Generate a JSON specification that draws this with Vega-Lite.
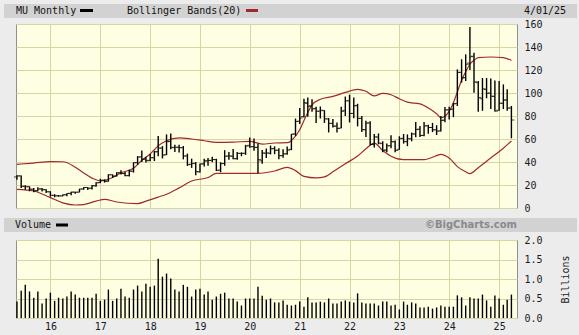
{
  "$schema": "https://vega.github.io/schema/vega-lite/v6.json",
  "background": "#ececec",
  "padding": {"left": 3, "top": 3, "right": 3, "bottom": 5},
  "config": {
    "font": "DejaVu Sans Mono",
    "axis": {"labelFont": "DejaVu Sans Mono", "labelFontSize": 10, "labelColor": "#1a1a1a", "labelOverlap": false, "gridColor": "#d9d4a4", "gridOpacity": 1, "ticks": false, "domain": false, "titleFont": "DejaVu Sans Mono", "titleFontSize": 10, "titleFontWeight": "normal", "titleColor": "#1a1a1a"},
    "view": {"fill": "#fefee2", "stroke": "#909090"}
  },
  "datasets": {
    "ohlc": [
      {"d":"2015-05-01","o":27.0,"h":28.5,"l":24.5,"c":27.9},
      {"d":"2015-06-01","o":27.9,"h":28.2,"l":17.3,"c":18.8},
      {"d":"2015-07-01","o":18.9,"h":19.8,"l":15.8,"c":18.5},
      {"d":"2015-08-01","o":18.5,"h":18.8,"l":14.5,"c":16.4},
      {"d":"2015-09-01","o":16.3,"h":17.3,"l":13.8,"c":15.0},
      {"d":"2015-10-01","o":15.0,"h":18.0,"l":14.5,"c":16.6},
      {"d":"2015-11-01","o":16.6,"h":17.4,"l":14.4,"c":15.9},
      {"d":"2015-12-01","o":15.9,"h":16.3,"l":13.0,"c":14.2},
      {"d":"2016-01-01","o":14.0,"h":14.6,"l":9.8,"c":11.0},
      {"d":"2016-02-01","o":11.0,"h":12.0,"l":9.3,"c":10.6},
      {"d":"2016-03-01","o":10.6,"h":11.3,"l":9.8,"c":10.5},
      {"d":"2016-04-01","o":10.5,"h":11.8,"l":10.2,"c":11.5},
      {"d":"2016-05-01","o":11.5,"h":12.9,"l":10.2,"c":12.7},
      {"d":"2016-06-01","o":12.7,"h":14.2,"l":11.0,"c":13.8},
      {"d":"2016-07-01","o":13.8,"h":14.1,"l":12.3,"c":13.7},
      {"d":"2016-08-01","o":13.8,"h":16.7,"l":13.6,"c":16.5},
      {"d":"2016-09-01","o":16.5,"h":18.1,"l":15.9,"c":17.8},
      {"d":"2016-10-01","o":17.8,"h":18.0,"l":15.7,"c":17.2},
      {"d":"2016-11-01","o":17.2,"h":19.9,"l":16.0,"c":19.3},
      {"d":"2016-12-01","o":19.4,"h":22.4,"l":18.5,"c":21.9},
      {"d":"2017-01-01","o":22.1,"h":25.4,"l":21.6,"c":24.1},
      {"d":"2017-02-01","o":24.2,"h":24.9,"l":22.1,"c":23.2},
      {"d":"2017-03-01","o":23.3,"h":29.3,"l":23.0,"c":28.9},
      {"d":"2017-04-01","o":28.9,"h":29.2,"l":26.3,"c":27.7},
      {"d":"2017-05-01","o":27.8,"h":31.1,"l":27.4,"c":30.6},
      {"d":"2017-06-01","o":30.7,"h":32.9,"l":29.1,"c":29.9},
      {"d":"2017-07-01","o":30.0,"h":31.3,"l":27.6,"c":28.1},
      {"d":"2017-08-01","o":28.2,"h":33.3,"l":27.3,"c":32.0},
      {"d":"2017-09-01","o":32.0,"h":39.7,"l":30.8,"c":39.3},
      {"d":"2017-10-01","o":39.5,"h":45.1,"l":37.6,"c":44.3},
      {"d":"2017-11-01","o":44.5,"h":49.9,"l":39.9,"c":42.4},
      {"d":"2017-12-01","o":42.5,"h":44.5,"l":39.5,"c":41.1},
      {"d":"2018-01-01","o":41.5,"h":47.0,"l":40.6,"c":43.7},
      {"d":"2018-02-01","o":43.7,"h":49.8,"l":40.8,"c":48.8},
      {"d":"2018-03-01","o":49.0,"h":62.6,"l":45.0,"c":52.1},
      {"d":"2018-04-01","o":52.1,"h":53.8,"l":43.1,"c":46.0},
      {"d":"2018-05-01","o":46.3,"h":64.0,"l":46.1,"c":57.6},
      {"d":"2018-06-01","o":57.9,"h":64.7,"l":51.0,"c":52.4},
      {"d":"2018-07-01","o":52.8,"h":54.9,"l":48.8,"c":52.8},
      {"d":"2018-08-01","o":52.8,"h":55.0,"l":48.3,"c":52.5},
      {"d":"2018-09-01","o":52.4,"h":53.9,"l":42.3,"c":45.2},
      {"d":"2018-10-01","o":45.3,"h":47.3,"l":36.6,"c":37.7},
      {"d":"2018-11-01","o":38.0,"h":42.9,"l":34.9,"c":38.6},
      {"d":"2018-12-01","o":38.9,"h":40.0,"l":28.4,"c":31.7},
      {"d":"2019-01-01","o":31.3,"h":38.7,"l":30.8,"c":38.2},
      {"d":"2019-02-01","o":38.5,"h":42.8,"l":36.1,"c":40.9},
      {"d":"2019-03-01","o":41.0,"h":43.5,"l":36.8,"c":41.3},
      {"d":"2019-04-01","o":41.5,"h":44.5,"l":39.8,"c":42.1},
      {"d":"2019-05-01","o":42.1,"h":42.8,"l":32.1,"c":32.7},
      {"d":"2019-06-01","o":33.0,"h":39.8,"l":31.1,"c":38.6},
      {"d":"2019-07-01","o":38.7,"h":50.3,"l":36.7,"c":44.9},
      {"d":"2019-08-01","o":45.3,"h":48.8,"l":42.0,"c":45.3},
      {"d":"2019-09-01","o":45.0,"h":51.4,"l":42.5,"c":42.9},
      {"d":"2019-10-01","o":42.9,"h":48.7,"l":41.9,"c":47.5},
      {"d":"2019-11-01","o":47.5,"h":48.4,"l":45.0,"c":47.5},
      {"d":"2019-12-01","o":47.6,"h":54.9,"l":46.2,"c":53.8},
      {"d":"2020-01-01","o":54.5,"h":61.2,"l":52.3,"c":53.2},
      {"d":"2020-02-01","o":53.4,"h":60.5,"l":49.7,"c":52.6},
      {"d":"2020-03-01","o":52.8,"h":56.0,"l":30.5,"c":42.1},
      {"d":"2020-04-01","o":41.0,"h":50.5,"l":38.4,"c":47.9},
      {"d":"2020-05-01","o":47.6,"h":51.7,"l":43.5,"c":47.9},
      {"d":"2020-06-01","o":47.6,"h":54.3,"l":46.6,"c":51.5},
      {"d":"2020-07-01","o":51.6,"h":53.6,"l":46.8,"c":50.1},
      {"d":"2020-08-01","o":50.3,"h":51.9,"l":42.3,"c":45.5},
      {"d":"2020-09-01","o":45.6,"h":51.0,"l":43.7,"c":47.0},
      {"d":"2020-10-01","o":47.2,"h":53.5,"l":46.4,"c":50.3},
      {"d":"2020-11-01","o":51.0,"h":64.4,"l":50.3,"c":64.1},
      {"d":"2020-12-01","o":64.5,"h":77.8,"l":62.7,"c":75.2},
      {"d":"2021-01-01","o":75.5,"h":86.9,"l":73.1,"c":78.3},
      {"d":"2021-02-01","o":79.5,"h":95.0,"l":78.7,"c":91.6},
      {"d":"2021-03-01","o":91.0,"h":96.0,"l":79.3,"c":88.2},
      {"d":"2021-04-01","o":89.0,"h":94.6,"l":83.6,"c":86.1},
      {"d":"2021-05-01","o":86.6,"h":88.0,"l":74.0,"c":84.1},
      {"d":"2021-06-01","o":84.3,"h":88.3,"l":77.8,"c":85.0},
      {"d":"2021-07-01","o":84.6,"h":85.0,"l":74.0,"c":77.6},
      {"d":"2021-08-01","o":77.4,"h":78.2,"l":65.7,"c":73.6},
      {"d":"2021-09-01","o":73.6,"h":77.5,"l":70.1,"c":71.0},
      {"d":"2021-10-01","o":71.4,"h":74.4,"l":65.7,"c":69.1},
      {"d":"2021-11-01","o":69.5,"h":88.0,"l":69.4,"c":84.0},
      {"d":"2021-12-01","o":84.9,"h":96.9,"l":80.0,"c":93.2},
      {"d":"2022-01-01","o":93.2,"h":98.5,"l":74.4,"c":82.2},
      {"d":"2022-02-01","o":82.3,"h":96.1,"l":78.0,"c":88.8},
      {"d":"2022-03-01","o":89.2,"h":90.6,"l":71.0,"c":77.9},
      {"d":"2022-04-01","o":78.0,"h":80.0,"l":66.0,"c":68.2},
      {"d":"2022-05-01","o":68.0,"h":75.8,"l":61.8,"c":73.8},
      {"d":"2022-06-01","o":74.0,"h":75.5,"l":54.3,"c":55.3},
      {"d":"2022-07-01","o":55.3,"h":64.4,"l":52.6,"c":61.9},
      {"d":"2022-08-01","o":61.6,"h":64.8,"l":55.4,"c":56.5},
      {"d":"2022-09-01","o":56.0,"h":58.0,"l":48.5,"c":50.1},
      {"d":"2022-10-01","o":50.5,"h":56.0,"l":48.4,"c":54.1},
      {"d":"2022-11-01","o":54.1,"h":63.3,"l":52.0,"c":57.7},
      {"d":"2022-12-01","o":57.5,"h":58.8,"l":48.5,"c":50.0},
      {"d":"2023-01-01","o":51.0,"h":62.4,"l":50.6,"c":60.3},
      {"d":"2023-02-01","o":60.6,"h":64.3,"l":56.0,"c":57.8},
      {"d":"2023-03-01","o":57.6,"h":64.0,"l":53.8,"c":60.3},
      {"d":"2023-04-01","o":60.1,"h":65.6,"l":58.0,"c":64.4},
      {"d":"2023-05-01","o":64.3,"h":74.8,"l":61.5,"c":68.2},
      {"d":"2023-06-01","o":68.6,"h":71.3,"l":61.8,"c":63.1},
      {"d":"2023-07-01","o":63.1,"h":74.8,"l":62.5,"c":71.4},
      {"d":"2023-08-01","o":71.5,"h":72.5,"l":64.5,"c":70.0},
      {"d":"2023-09-01","o":70.0,"h":74.0,"l":66.0,"c":68.0},
      {"d":"2023-10-01","o":68.0,"h":72.0,"l":63.5,"c":66.9},
      {"d":"2023-11-01","o":67.0,"h":79.9,"l":66.5,"c":76.1},
      {"d":"2023-12-01","o":76.5,"h":87.9,"l":74.5,"c":85.3},
      {"d":"2024-01-01","o":85.3,"h":88.0,"l":77.0,"c":85.7},
      {"d":"2024-02-01","o":86.0,"h":91.5,"l":79.0,"c":90.6},
      {"d":"2024-03-01","o":90.8,"h":120.5,"l":88.7,"c":117.9},
      {"d":"2024-04-01","o":118.0,"h":129.3,"l":109.0,"c":113.0},
      {"d":"2024-05-01","o":113.5,"h":133.6,"l":110.4,"c":125.0},
      {"d":"2024-06-01","o":126.0,"h":157.5,"l":120.0,"c":131.5},
      {"d":"2024-07-01","o":132.0,"h":135.0,"l":100.3,"c":109.7},
      {"d":"2024-08-01","o":109.0,"h":110.4,"l":83.7,"c":96.1},
      {"d":"2024-09-01","o":95.0,"h":113.0,"l":84.5,"c":103.7},
      {"d":"2024-10-01","o":103.0,"h":113.0,"l":95.4,"c":99.7},
      {"d":"2024-11-01","o":100.0,"h":112.6,"l":86.0,"c":97.3},
      {"d":"2024-12-01","o":97.0,"h":110.9,"l":84.0,"c":84.2},
      {"d":"2025-01-01","o":85.0,"h":110.4,"l":84.5,"c":91.2},
      {"d":"2025-02-01","o":91.0,"h":107.5,"l":86.0,"c":93.8},
      {"d":"2025-03-01","o":94.0,"h":103.2,"l":84.5,"c":86.9},
      {"d":"2025-04-01","o":87.0,"h":88.7,"l":60.6,"c":76.5}
    ],
    "bands": [
      {"d":"2015-05-01","b":"upper","v":38.0},
      {"d":"2015-09-01","b":"upper","v":39.1},
      {"d":"2016-01-01","b":"upper","v":40.3},
      {"d":"2016-04-01","b":"upper","v":40.2},
      {"d":"2016-07-01","b":"upper","v":35.5},
      {"d":"2016-09-01","b":"upper","v":30.5},
      {"d":"2016-11-01","b":"upper","v":26.0},
      {"d":"2017-01-01","b":"upper","v":23.5},
      {"d":"2017-04-01","b":"upper","v":26.5},
      {"d":"2017-06-01","b":"upper","v":30.5},
      {"d":"2017-09-01","b":"upper","v":34.5},
      {"d":"2017-11-01","b":"upper","v":41.5},
      {"d":"2018-01-01","b":"upper","v":47.0},
      {"d":"2018-03-01","b":"upper","v":54.0},
      {"d":"2018-05-01","b":"upper","v":58.5},
      {"d":"2018-08-01","b":"upper","v":61.0},
      {"d":"2018-11-01","b":"upper","v":60.0},
      {"d":"2019-02-01","b":"upper","v":58.5},
      {"d":"2019-05-01","b":"upper","v":57.0},
      {"d":"2019-09-01","b":"upper","v":57.2},
      {"d":"2020-01-01","b":"upper","v":58.0},
      {"d":"2020-04-01","b":"upper","v":55.6},
      {"d":"2020-07-01","b":"upper","v":56.5},
      {"d":"2020-10-01","b":"upper","v":56.8},
      {"d":"2020-12-01","b":"upper","v":62.6},
      {"d":"2021-01-01","b":"upper","v":68.0},
      {"d":"2021-02-01","b":"upper","v":76.0},
      {"d":"2021-03-01","b":"upper","v":83.0},
      {"d":"2021-04-01","b":"upper","v":89.5},
      {"d":"2021-06-01","b":"upper","v":94.5},
      {"d":"2021-09-01","b":"upper","v":97.0},
      {"d":"2021-12-01","b":"upper","v":100.5},
      {"d":"2022-03-01","b":"upper","v":103.2},
      {"d":"2022-05-01","b":"upper","v":101.5},
      {"d":"2022-07-01","b":"upper","v":97.5},
      {"d":"2022-09-01","b":"upper","v":99.7},
      {"d":"2022-11-01","b":"upper","v":98.5},
      {"d":"2023-01-01","b":"upper","v":95.0},
      {"d":"2023-03-01","b":"upper","v":92.0},
      {"d":"2023-06-01","b":"upper","v":90.5},
      {"d":"2023-08-01","b":"upper","v":87.0},
      {"d":"2023-10-01","b":"upper","v":82.0},
      {"d":"2023-11-01","b":"upper","v":78.5},
      {"d":"2024-01-01","b":"upper","v":84.0},
      {"d":"2024-02-01","b":"upper","v":91.5},
      {"d":"2024-03-01","b":"upper","v":101.0},
      {"d":"2024-04-01","b":"upper","v":111.0},
      {"d":"2024-05-01","b":"upper","v":118.5},
      {"d":"2024-06-01","b":"upper","v":125.0},
      {"d":"2024-07-01","b":"upper","v":128.5},
      {"d":"2024-08-01","b":"upper","v":130.7},
      {"d":"2024-11-01","b":"upper","v":131.3},
      {"d":"2025-02-01","b":"upper","v":130.7},
      {"d":"2025-04-01","b":"upper","v":128.4},
      {"d":"2015-05-01","b":"lower","v":16.2},
      {"d":"2015-09-01","b":"lower","v":14.8},
      {"d":"2016-01-01","b":"lower","v":9.0},
      {"d":"2016-04-01","b":"lower","v":4.5},
      {"d":"2016-07-01","b":"lower","v":2.6},
      {"d":"2016-09-01","b":"lower","v":3.0},
      {"d":"2016-12-01","b":"lower","v":6.0},
      {"d":"2017-02-01","b":"lower","v":7.5},
      {"d":"2017-05-01","b":"lower","v":5.2},
      {"d":"2017-10-01","b":"lower","v":3.8},
      {"d":"2017-12-01","b":"lower","v":6.0},
      {"d":"2018-03-01","b":"lower","v":9.5},
      {"d":"2018-05-01","b":"lower","v":12.0},
      {"d":"2018-08-01","b":"lower","v":17.5},
      {"d":"2018-11-01","b":"lower","v":23.5},
      {"d":"2019-03-01","b":"lower","v":26.5},
      {"d":"2019-05-01","b":"lower","v":30.1},
      {"d":"2020-03-01","b":"lower","v":30.1},
      {"d":"2020-07-01","b":"lower","v":32.2},
      {"d":"2020-10-01","b":"lower","v":35.3},
      {"d":"2020-12-01","b":"lower","v":32.5},
      {"d":"2021-02-01","b":"lower","v":27.5},
      {"d":"2021-05-01","b":"lower","v":26.2},
      {"d":"2021-07-01","b":"lower","v":27.0},
      {"d":"2021-09-01","b":"lower","v":31.5},
      {"d":"2021-12-01","b":"lower","v":38.5},
      {"d":"2022-03-01","b":"lower","v":45.2},
      {"d":"2022-05-01","b":"lower","v":51.5},
      {"d":"2022-07-01","b":"lower","v":56.5},
      {"d":"2022-09-01","b":"lower","v":50.0},
      {"d":"2022-11-01","b":"lower","v":45.0},
      {"d":"2023-02-01","b":"lower","v":42.0},
      {"d":"2023-07-01","b":"lower","v":42.0},
      {"d":"2023-10-01","b":"lower","v":45.5},
      {"d":"2023-11-01","b":"lower","v":46.7},
      {"d":"2024-01-01","b":"lower","v":43.5},
      {"d":"2024-03-01","b":"lower","v":36.0},
      {"d":"2024-05-01","b":"lower","v":31.5},
      {"d":"2024-06-01","b":"lower","v":29.9},
      {"d":"2024-08-01","b":"lower","v":35.0},
      {"d":"2024-11-01","b":"lower","v":43.5},
      {"d":"2025-02-01","b":"lower","v":52.0},
      {"d":"2025-04-01","b":"lower","v":58.3}
    ],
    "volume": [
      {"d":"2015-05-01","v":0.42},{"d":"2015-06-01","v":0.70},{"d":"2015-07-01","v":0.85},{"d":"2015-08-01","v":0.68},
      {"d":"2015-09-01","v":0.52},{"d":"2015-10-01","v":0.68},{"d":"2015-11-01","v":0.37},{"d":"2015-12-01","v":0.50},
      {"d":"2016-01-01","v":0.65},{"d":"2016-02-01","v":0.44},{"d":"2016-03-01","v":0.52},{"d":"2016-04-01","v":0.50},
      {"d":"2016-05-01","v":0.55},{"d":"2016-06-01","v":0.68},{"d":"2016-07-01","v":0.60},{"d":"2016-08-01","v":0.52},
      {"d":"2016-09-01","v":0.52},{"d":"2016-10-01","v":0.52},{"d":"2016-11-01","v":0.52},{"d":"2016-12-01","v":0.62},
      {"d":"2017-01-01","v":0.44},{"d":"2017-02-01","v":0.47},{"d":"2017-03-01","v":0.73},{"d":"2017-04-01","v":0.44},
      {"d":"2017-05-01","v":0.50},{"d":"2017-06-01","v":0.75},{"d":"2017-07-01","v":0.55},{"d":"2017-08-01","v":0.52},
      {"d":"2017-09-01","v":0.73},{"d":"2017-10-01","v":0.83},{"d":"2017-11-01","v":0.68},{"d":"2017-12-01","v":0.88},
      {"d":"2018-01-01","v":0.80},{"d":"2018-02-01","v":0.83},{"d":"2018-03-01","v":1.52},{"d":"2018-04-01","v":1.06},
      {"d":"2018-05-01","v":1.14},{"d":"2018-06-01","v":1.01},{"d":"2018-07-01","v":0.73},{"d":"2018-08-01","v":0.68},
      {"d":"2018-09-01","v":0.85},{"d":"2018-10-01","v":0.80},{"d":"2018-11-01","v":0.55},{"d":"2018-12-01","v":0.73},
      {"d":"2019-01-01","v":0.75},{"d":"2019-02-01","v":0.60},{"d":"2019-03-01","v":0.68},{"d":"2019-04-01","v":0.47},
      {"d":"2019-05-01","v":0.55},{"d":"2019-06-01","v":0.62},{"d":"2019-07-01","v":0.65},{"d":"2019-08-01","v":0.50},
      {"d":"2019-09-01","v":0.50},{"d":"2019-10-01","v":0.42},{"d":"2019-11-01","v":0.32},{"d":"2019-12-01","v":0.50},
      {"d":"2020-01-01","v":0.50},{"d":"2020-02-01","v":0.50},{"d":"2020-03-01","v":0.80},{"d":"2020-04-01","v":0.57},
      {"d":"2020-05-01","v":0.47},{"d":"2020-06-01","v":0.50},{"d":"2020-07-01","v":0.40},{"d":"2020-08-01","v":0.40},
      {"d":"2020-09-01","v":0.45},{"d":"2020-10-01","v":0.34},{"d":"2020-11-01","v":0.32},{"d":"2020-12-01","v":0.34},
      {"d":"2021-01-01","v":0.42},{"d":"2021-02-01","v":0.29},{"d":"2021-03-01","v":0.53},{"d":"2021-04-01","v":0.40},
      {"d":"2021-05-01","v":0.40},{"d":"2021-06-01","v":0.42},{"d":"2021-07-01","v":0.40},{"d":"2021-08-01","v":0.50},
      {"d":"2021-09-01","v":0.37},{"d":"2021-10-01","v":0.37},{"d":"2021-11-01","v":0.42},{"d":"2021-12-01","v":0.45},
      {"d":"2022-01-01","v":0.42},{"d":"2022-02-01","v":0.40},{"d":"2022-03-01","v":0.63},{"d":"2022-04-01","v":0.40},
      {"d":"2022-05-01","v":0.37},{"d":"2022-06-01","v":0.37},{"d":"2022-07-01","v":0.37},{"d":"2022-08-01","v":0.32},
      {"d":"2022-09-01","v":0.42},{"d":"2022-10-01","v":0.42},{"d":"2022-11-01","v":0.32},{"d":"2022-12-01","v":0.34},
      {"d":"2023-01-01","v":0.22},{"d":"2023-02-01","v":0.42},{"d":"2023-03-01","v":0.34},{"d":"2023-04-01","v":0.40},
      {"d":"2023-05-01","v":0.37},{"d":"2023-06-01","v":0.27},{"d":"2023-07-01","v":0.27},{"d":"2023-08-01","v":0.29},
      {"d":"2023-09-01","v":0.24},{"d":"2023-10-01","v":0.27},{"d":"2023-11-01","v":0.32},{"d":"2023-12-01","v":0.29},
      {"d":"2024-01-01","v":0.29},{"d":"2024-02-01","v":0.29},{"d":"2024-03-01","v":0.58},{"d":"2024-04-01","v":0.53},
      {"d":"2024-05-01","v":0.32},{"d":"2024-06-01","v":0.53},{"d":"2024-07-01","v":0.50},{"d":"2024-08-01","v":0.50},
      {"d":"2024-09-01","v":0.60},{"d":"2024-10-01","v":0.45},{"d":"2024-11-01","v":0.29},{"d":"2024-12-01","v":0.58},
      {"d":"2025-01-01","v":0.50},{"d":"2025-02-01","v":0.34},{"d":"2025-03-01","v":0.47},{"d":"2025-04-01","v":0.60}
    ]
  },
  "vconcat": [
    {
      "width": 501,
      "height": 184,
      "layer": [
        {"data": {"values": [{}]}, "mark": {"type": "rect", "x": -12, "x2": 561, "y": -20, "y2": -6, "color": "#d2d2d2", "clip": false}, "encoding": {}},
        {"data": {"values": [{}]}, "mark": {"type": "text", "text": "MU Monthly", "x": 0, "y": -13, "align": "left", "baseline": "middle", "font": "DejaVu Sans Mono", "fontSize": 10, "color": "#111111"}, "encoding": {}},
        {"data": {"values": [{}]}, "mark": {"type": "rect", "x": 64, "x2": 77, "y": -15, "y2": -12, "color": "#000000"}, "encoding": {}},
        {"data": {"values": [{}]}, "mark": {"type": "text", "text": "Bollinger Bands(20)", "x": 111, "y": -13, "align": "left", "baseline": "middle", "font": "DejaVu Sans Mono", "fontSize": 10, "color": "#111111"}, "encoding": {}},
        {"data": {"values": [{}]}, "mark": {"type": "rect", "x": 230, "x2": 242, "y": -15, "y2": -12, "color": "#9e2b2b"}, "encoding": {}},
        {"data": {"values": [{}]}, "mark": {"type": "text", "text": "4/01/25", "x": 508, "y": -13, "align": "left", "baseline": "middle", "font": "DejaVu Sans Mono", "fontSize": 10, "color": "#111111"}, "encoding": {}},
        {
          "data": {"name": "bands"},
          "mark": {"type": "line", "color": "#9e2b2b", "strokeWidth": 1.2, "interpolate": "monotone"},
          "encoding": {
            "x": {"field": "d", "type": "temporal", "title": null, "scale": {"domain": [{"year": 2015, "month": 4, "date": 24, "utc": true}, {"year": 2025, "month": 5, "date": 12, "utc": true}]},
                  "axis": {"labels": false, "grid": true, "tickCount": {"interval": "year", "step": 1}, "title": null}},
            "y": {"field": "v", "type": "quantitative", "title": null, "scale": {"domain": [0, 160], "nice": false},
                  "axis": {"orient": "right", "values": [0, 20, 40, 60, 80, 100, 120, 140, 160], "grid": true, "labelPadding": 7, "labelOverlap": false, "title": null}},
            "detail": {"field": "b"}
          }
        },
        {
          "data": {"name": "ohlc"},
          "mark": {"type": "rule", "color": "#000000", "strokeWidth": 1.4},
          "encoding": {
            "x": {"field": "d", "type": "temporal", "title": null,
                  "axis": {"labels": false, "grid": true, "tickCount": {"interval": "year", "step": 1}, "title": null}},
            "y": {"field": "l", "type": "quantitative", "title": null,
                  "axis": {"orient": "right", "values": [0, 20, 40, 60, 80, 100, 120, 140, 160], "grid": true, "labelPadding": 7, "labelOverlap": false, "title": null}},
            "y2": {"field": "h"}
          }
        },
        {
          "data": {"name": "ohlc"},
          "mark": {"type": "tick", "orient": "horizontal", "color": "#000000", "size": 3, "thickness": 1, "xOffset": -1.5},
          "encoding": {
            "x": {"field": "d", "type": "temporal", "title": null,
                  "axis": {"labels": false, "grid": true, "tickCount": {"interval": "year", "step": 1}, "title": null}},
            "y": {"field": "o", "type": "quantitative", "title": null,
                  "axis": {"orient": "right", "values": [0, 20, 40, 60, 80, 100, 120, 140, 160], "grid": true, "labelPadding": 7, "labelOverlap": false, "title": null}}
          }
        },
        {
          "data": {"name": "ohlc"},
          "mark": {"type": "tick", "orient": "horizontal", "color": "#000000", "size": 3, "thickness": 1, "xOffset": 1.5},
          "encoding": {
            "x": {"field": "d", "type": "temporal", "title": null,
                  "axis": {"labels": false, "grid": true, "tickCount": {"interval": "year", "step": 1}, "title": null}},
            "y": {"field": "c", "type": "quantitative", "title": null,
                  "axis": {"orient": "right", "values": [0, 20, 40, 60, 80, 100, 120, 140, 160], "grid": true, "labelPadding": 7, "labelOverlap": false, "title": null}}
          }
        }
      ]
    },
    {
      "width": 501,
      "height": 78,
      "layer": [
        {"data": {"values": [{}]}, "mark": {"type": "rect", "x": -12, "x2": 561, "y": -22, "y2": -8, "color": "#d2d2d2", "clip": false}, "encoding": {}},
        {"data": {"values": [{}]}, "mark": {"type": "text", "text": "Volume", "x": -1, "y": -15, "align": "left", "baseline": "middle", "font": "DejaVu Sans Mono", "fontSize": 10, "color": "#111111"}, "encoding": {}},
        {"data": {"values": [{}]}, "mark": {"type": "rect", "x": 40, "x2": 52, "y": -16.5, "y2": -13.5, "color": "#000000"}, "encoding": {}},
        {"data": {"values": [{}]}, "mark": {"type": "text", "text": "©BigCharts.com", "x": 501, "y": -15, "align": "right", "baseline": "middle", "font": "DejaVu Sans", "fontWeight": "bold", "fontSize": 10, "color": "#8a8a8a"}, "encoding": {}},
        {
          "data": {"name": "volume"},
          "mark": {"type": "rule", "color": "#000000", "strokeWidth": 1.4},
          "encoding": {
            "x": {"field": "d", "type": "temporal", "title": null, "scale": {"domain": [{"year": 2015, "month": 4, "date": 24, "utc": true}, {"year": 2025, "month": 5, "date": 12, "utc": true}]},
                  "axis": {"format": "%y", "grid": true, "tickCount": {"interval": "year", "step": 1}, "labelPadding": 3, "labelFlush": false, "title": null}},
            "y": {"field": "v", "type": "quantitative", "scale": {"domain": [0, 2], "nice": false},
                  "axis": {"orient": "right", "values": [0, 0.5, 1, 1.5, 2], "format": ".1f", "grid": true, "labelPadding": 7, "labelOverlap": false, "title": "Billions", "titleAngle": 270, "titlePadding": 28}},
            "y2": {"datum": 0}
          }
        }
      ]
    }
  ],
  "spacing": 32,
  "bounds": "flush"
}
